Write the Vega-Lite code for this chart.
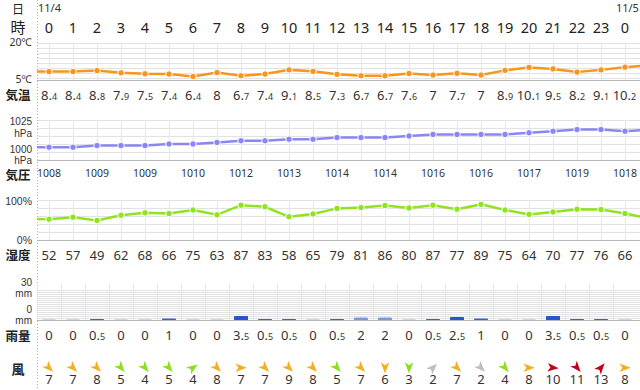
{
"$schema": "https://vega.github.io/schema/vega-lite/v6.json",
"width": 603, "height": 390,
"padding": {"left": 37, "top": 0, "right": 0, "bottom": 0},
"autosize": {"type": "none"},
"background": "white",
"config": {"view": {"stroke": null}, "text": {"font": "Noto Sans", "color": "#333333", "fontSize": 13}},
"datasets": {"wx": [
{"i":-1,"hour":23,"temp":8.5,"pres":1008,"hum":53},
{"i":0,"hour":0,"temp":8.4,"pres":1008,"hum":52,"rain":0,"wdir":135,"wspd":7},
{"i":1,"hour":1,"temp":8.4,"pres":1008,"hum":57,"rain":0,"wdir":135,"wspd":7},
{"i":2,"hour":2,"temp":8.8,"pres":1009,"hum":49,"rain":0.5,"wdir":135,"wspd":8},
{"i":3,"hour":3,"temp":7.9,"pres":1009,"hum":62,"rain":0,"wdir":140,"wspd":5},
{"i":4,"hour":4,"temp":7.5,"pres":1009,"hum":68,"rain":0,"wdir":140,"wspd":4},
{"i":5,"hour":5,"temp":7.4,"pres":1010,"hum":66,"rain":1,"wdir":140,"wspd":5},
{"i":6,"hour":6,"temp":6.4,"pres":1010,"hum":75,"rain":0,"wdir":55,"wspd":4},
{"i":7,"hour":7,"temp":8,"pres":1011,"hum":63,"rain":0,"wdir":135,"wspd":8},
{"i":8,"hour":8,"temp":6.7,"pres":1012,"hum":87,"rain":3.5,"wdir":90,"wspd":7},
{"i":9,"hour":9,"temp":7.4,"pres":1012,"hum":83,"rain":0.5,"wdir":135,"wspd":7},
{"i":10,"hour":10,"temp":9.1,"pres":1013,"hum":58,"rain":0.5,"wdir":135,"wspd":9},
{"i":11,"hour":11,"temp":8.5,"pres":1013,"hum":65,"rain":0,"wdir":135,"wspd":8},
{"i":12,"hour":12,"temp":7.3,"pres":1014,"hum":79,"rain":0.5,"wdir":140,"wspd":5},
{"i":13,"hour":13,"temp":6.7,"pres":1014,"hum":81,"rain":2,"wdir":135,"wspd":7},
{"i":14,"hour":14,"temp":6.7,"pres":1014,"hum":86,"rain":2,"wdir":180,"wspd":6},
{"i":15,"hour":15,"temp":7.6,"pres":1015,"hum":80,"rain":0,"wdir":180,"wspd":3},
{"i":16,"hour":16,"temp":7,"pres":1016,"hum":87,"rain":0.5,"wdir":45,"wspd":2},
{"i":17,"hour":17,"temp":7.7,"pres":1016,"hum":77,"rain":2.5,"wdir":135,"wspd":7},
{"i":18,"hour":18,"temp":7,"pres":1016,"hum":89,"rain":1,"wdir":135,"wspd":2},
{"i":19,"hour":19,"temp":8.9,"pres":1016,"hum":75,"rain":0,"wdir":140,"wspd":4},
{"i":20,"hour":20,"temp":10.1,"pres":1017,"hum":64,"rain":0,"wdir":90,"wspd":8},
{"i":21,"hour":21,"temp":9.5,"pres":1018,"hum":70,"rain":3.5,"wdir":95,"wspd":10},
{"i":22,"hour":22,"temp":8.2,"pres":1019,"hum":77,"rain":0.5,"wdir":140,"wspd":11},
{"i":23,"hour":23,"temp":9.1,"pres":1019,"hum":76,"rain":0.5,"wdir":40,"wspd":13},
{"i":24,"hour":0,"temp":10.2,"pres":1018,"hum":66,"rain":0,"wdir":90,"wspd":8},
{"i":25,"hour":1,"temp":11,"pres":1019,"hum":54}
]},
"data": {"name": "wx"},
"resolve": {"scale": {"y": "independent", "color": "independent", "stroke": "independent"}},
"layer": [
 {"transform": [{"filter": "datum.i >= 0 && datum.i <= 24"}],
  "mark": {"type": "rule", "color": "#e6e6e6", "strokeWidth": 1, "xOffset": 0.5},
  "encoding": {"x": {"field": "i", "type": "quantitative", "scale": {"domain": [-0.5, 24.625], "nice": false, "zero": false, "padding": 0}, "axis": null},
   "y": {"datum": 20, "type": "quantitative", "scale": {"domain": [-120.68, 37.43], "nice": false, "zero": false, "padding": 0}, "axis": null},
   "y2": {"datum": 5}}},
 {"mark": {"type": "line", "color": "#f8951d", "strokeWidth": 2.5, "clip": true},
  "encoding": {"x": {"field": "i", "type": "quantitative", "scale": {"domain": [-0.5, 24.625], "nice": false, "zero": false, "padding": 0}, "axis": null},
   "y": {"field": "temp", "type": "quantitative", "scale": {"domain": [-120.68, 37.43], "nice": false, "zero": false, "padding": 0},
     "axis": {"grid": true, "values": [6,8,10,12,14,16,18,20], "labels": false, "ticks": false, "domain": false, "title": null, "gridColor": "#e2e2e2"}}}},
 {"transform": [{"filter": "datum.i >= 0 && datum.i <= 24"}],
  "mark": {"type": "circle", "size": 42, "color": "#f8951d", "opacity": 1, "stroke": "white", "strokeWidth": 1},
  "encoding": {"x": {"field": "i", "type": "quantitative", "scale": {"domain": [-0.5, 24.625], "nice": false, "zero": false, "padding": 0}, "axis": null},
   "y": {"field": "temp", "type": "quantitative", "scale": {"domain": [-120.68, 37.43], "nice": false, "zero": false, "padding": 0}, "axis": null}}},
 {"transform": [{"filter": "datum.i >= 0 && datum.i <= 24"}],
  "mark": {"type": "text", "baseline": "alphabetic", "fontSize": 13,
    "text": {"expr": "datum.temp % 1 === 0 ? '' + datum.temp : floor(datum.temp) + '.'"},
    "align": {"expr": "datum.temp % 1 === 0 ? 'center' : 'right'"},
    "dx": {"expr": "datum.temp % 1 === 0 ? 0 : (datum.temp >= 10 ? 6 : 3)"}},
  "encoding": {"x": {"field": "i", "type": "quantitative", "scale": {"domain": [-0.5, 24.625], "nice": false, "zero": false, "padding": 0}, "axis": null},
   "y": {"datum": -3.31, "type": "quantitative", "scale": {"domain": [-120.68, 37.43], "nice": false, "zero": false, "padding": 0}, "axis": null}}},
 {"transform": [{"filter": "datum.i >= 0 && datum.i <= 24 && datum.temp % 1 !== 0"}],
  "mark": {"type": "text", "baseline": "alphabetic", "fontSize": 9, "align": "left",
    "text": {"expr": "'' + round((datum.temp % 1) * 10)"},
    "dx": {"expr": "datum.temp >= 10 ? 6 : 3"}},
  "encoding": {"x": {"field": "i", "type": "quantitative", "scale": {"domain": [-0.5, 24.625], "nice": false, "zero": false, "padding": 0}, "axis": null},
   "y": {"datum": -3.31, "type": "quantitative", "scale": {"domain": [-120.68, 37.43], "nice": false, "zero": false, "padding": 0}, "axis": null}}},
 {"transform": [{"filter": "datum.i >= 0 && datum.i <= 24"}],
  "mark": {"type": "text", "baseline": "alphabetic", "fontSize": 14.5, "color": "#222222"},
  "encoding": {"x": {"field": "i", "type": "quantitative", "scale": {"domain": [-0.5, 24.625], "nice": false, "zero": false, "padding": 0}, "axis": null},
   "y": {"datum": 24.17, "type": "quantitative", "scale": {"domain": [-120.68, 37.43], "nice": false, "zero": false, "padding": 0}, "axis": null},
   "text": {"field": "hour", "type": "nominal"}}},
 {"data": {"values": [{"t": "日"}]},
  "mark": {"type": "text", "font": "Noto Sans CJK JP", "fontSize": 12, "baseline": "middle", "color": "#222222"},
  "encoding": {"x": {"datum": -1.29, "type": "quantitative", "axis": null},
   "y": {"datum": 33.4, "type": "quantitative", "scale": {"domain": [-120.68, 37.43], "nice": false, "zero": false, "padding": 0}, "axis": null},
   "text": {"field": "t", "type": "nominal"}}},
 {"data": {"values": [{"t": "時"}]},
  "mark": {"type": "text", "font": "Noto Sans CJK JP", "fontSize": 15, "baseline": "middle", "color": "#222222"},
  "encoding": {"x": {"datum": -1.29, "type": "quantitative", "axis": null},
   "y": {"datum": 26.28, "type": "quantitative", "scale": {"domain": [-120.68, 37.43], "nice": false, "zero": false, "padding": 0}, "axis": null},
   "text": {"field": "t", "type": "nominal"}}},
 {"data": {"values": [{"t": "11/4"}]},
  "mark": {"type": "text", "fontSize": 11, "baseline": "alphabetic", "align": "left"},
  "encoding": {"x": {"datum": -0.458, "type": "quantitative", "axis": null},
   "y": {"datum": 32.44, "type": "quantitative", "scale": {"domain": [-120.68, 37.43], "nice": false, "zero": false, "padding": 0}, "axis": null},
   "text": {"field": "t", "type": "nominal"}}},
 {"data": {"values": [{"t": "11/5"}]},
  "mark": {"type": "text", "fontSize": 11, "baseline": "alphabetic", "align": "center"},
  "encoding": {"x": {"datum": 24.1, "type": "quantitative", "axis": null},
   "y": {"datum": 32.44, "type": "quantitative", "scale": {"domain": [-120.68, 37.43], "nice": false, "zero": false, "padding": 0}, "axis": null},
   "text": {"field": "t", "type": "nominal"}}},
 {"data": {"values": [{"t": "気温"}]},
  "mark": {"type": "text", "font": "Noto Sans CJK JP", "fontSize": 12.5, "fontWeight": "bold", "baseline": "middle", "color": "#222222"},
  "encoding": {"x": {"datum": -1.29, "type": "quantitative", "axis": null},
   "y": {"datum": -1.36, "type": "quantitative", "scale": {"domain": [-120.68, 37.43], "nice": false, "zero": false, "padding": 0}, "axis": null},
   "text": {"field": "t", "type": "nominal"}}},
 {"data": {"values": [{"t": "20℃"}]},
  "mark": {"type": "text", "fontSize": 10.5, "baseline": "middle", "align": "right"},
  "encoding": {"x": {"datum": -0.708, "type": "quantitative", "axis": null},
   "y": {"datum": 20, "type": "quantitative", "scale": {"domain": [-120.68, 37.43], "nice": false, "zero": false, "padding": 0}, "axis": null},
   "text": {"field": "t", "type": "nominal"}}},
 {"data": {"values": [{"t": "5℃"}]},
  "mark": {"type": "text", "fontSize": 10.5, "baseline": "middle", "align": "right"},
  "encoding": {"x": {"datum": -0.708, "type": "quantitative", "axis": null},
   "y": {"datum": 5, "type": "quantitative", "scale": {"domain": [-120.68, 37.43], "nice": false, "zero": false, "padding": 0}, "axis": null},
   "text": {"field": "t", "type": "nominal"}}},
 {"data": {"values": [{"t": "sep"}]},
  "mark": {"type": "rule", "color": "#b0b0b0", "strokeDash": [1, 2], "xOffset": 0.5},
  "encoding": {"x": {"datum": -0.5, "type": "quantitative", "axis": null},
   "y": {"datum": 37.43, "type": "quantitative", "scale": {"domain": [-120.68, 37.43], "nice": false, "zero": false, "padding": 0}, "axis": null},
   "y2": {"datum": -120.68}}},
 {"data": {"values": [{"t": "base"}]},
  "mark": {"type": "rule", "color": "#b8b8b8", "yOffset": 0.5},
  "encoding": {"x": {"datum": -0.5, "type": "quantitative", "axis": null}, "x2": {"datum": 24.625},
   "y": {"datum": 5, "type": "quantitative", "scale": {"domain": [-120.68, 37.43], "nice": false, "zero": false, "padding": 0}, "axis": null}}},

 {"transform": [{"filter": "datum.i >= 0 && datum.i <= 24"}],
  "mark": {"type": "rule", "color": "#e6e6e6", "strokeWidth": 1, "xOffset": 0.5},
  "encoding": {"x": {"field": "i", "type": "quantitative", "scale": {"domain": [-0.5, 24.625], "nice": false, "zero": false, "padding": 0}, "axis": null},
   "y": {"datum": 1025, "type": "quantitative", "scale": {"domain": [856.25, 1100], "nice": false, "zero": false, "padding": 0}, "axis": null},
   "y2": {"datum": 1000}}},
 {"mark": {"type": "line", "color": "#8a86f4", "strokeWidth": 2.5, "clip": true},
  "encoding": {"x": {"field": "i", "type": "quantitative", "scale": {"domain": [-0.5, 24.625], "nice": false, "zero": false, "padding": 0}, "axis": null},
   "y": {"field": "pres", "type": "quantitative", "scale": {"domain": [856.25, 1100], "nice": false, "zero": false, "padding": 0},
     "axis": {"grid": true, "values": [1005,1010,1015,1020,1025], "labels": false, "ticks": false, "domain": false, "title": null, "gridColor": "#e2e2e2"}}}},
 {"transform": [{"filter": "datum.i >= 0 && datum.i <= 24"}],
  "mark": {"type": "circle", "size": 42, "color": "#8a86f4", "opacity": 1, "stroke": "white", "strokeWidth": 1},
  "encoding": {"x": {"field": "i", "type": "quantitative", "scale": {"domain": [-0.5, 24.625], "nice": false, "zero": false, "padding": 0}, "axis": null},
   "y": {"field": "pres", "type": "quantitative", "scale": {"domain": [856.25, 1100], "nice": false, "zero": false, "padding": 0}, "axis": null}}},
 {"transform": [{"filter": "datum.i >= 0 && datum.i <= 24 && datum.i % 2 === 0"}],
  "mark": {"type": "text", "baseline": "alphabetic", "fontSize": 10.5},
  "encoding": {"x": {"field": "i", "type": "quantitative", "scale": {"domain": [-0.5, 24.625], "nice": false, "zero": false, "padding": 0}, "axis": null},
   "y": {"datum": 989.6, "type": "quantitative", "scale": {"domain": [856.25, 1100], "nice": false, "zero": false, "padding": 0}, "axis": null},
   "text": {"field": "pres", "type": "nominal"}}},
 {"data": {"values": [{"t": "気圧"}]},
  "mark": {"type": "text", "font": "Noto Sans CJK JP", "fontSize": 12.5, "fontWeight": "bold", "baseline": "middle", "color": "#222222"},
  "encoding": {"x": {"datum": -1.29, "type": "quantitative", "axis": null},
   "y": {"datum": 990.1, "type": "quantitative", "scale": {"domain": [856.25, 1100], "nice": false, "zero": false, "padding": 0}, "axis": null},
   "text": {"field": "t", "type": "nominal"}}},
 {"data": {"values": [{"t": "1025", "u": "hPa"}]},
  "mark": {"type": "text", "font": "Liberation Sans", "fontSize": 10, "baseline": "middle", "align": "right", "dy": -5.6},
  "encoding": {"x": {"datum": -0.708, "type": "quantitative", "axis": null},
   "y": {"datum": 1020, "type": "quantitative", "scale": {"domain": [856.25, 1100], "nice": false, "zero": false, "padding": 0}, "axis": null},
   "text": {"field": "t", "type": "nominal"}}},
 {"data": {"values": [{"t": "1025", "u": "hPa"}]},
  "mark": {"type": "text", "font": "Liberation Sans", "fontSize": 10, "baseline": "middle", "align": "right", "dy": 5.6},
  "encoding": {"x": {"datum": -0.708, "type": "quantitative", "axis": null},
   "y": {"datum": 1020, "type": "quantitative", "scale": {"domain": [856.25, 1100], "nice": false, "zero": false, "padding": 0}, "axis": null},
   "text": {"field": "u", "type": "nominal"}}},
 {"data": {"values": [{"t": "1000", "u": "hPa"}]},
  "mark": {"type": "text", "font": "Liberation Sans", "fontSize": 10, "baseline": "middle", "align": "right", "dy": -5.6},
  "encoding": {"x": {"datum": -0.708, "type": "quantitative", "axis": null},
   "y": {"datum": 1002.8, "type": "quantitative", "scale": {"domain": [856.25, 1100], "nice": false, "zero": false, "padding": 0}, "axis": null},
   "text": {"field": "t", "type": "nominal"}}},
 {"data": {"values": [{"t": "1000", "u": "hPa"}]},
  "mark": {"type": "text", "font": "Liberation Sans", "fontSize": 10, "baseline": "middle", "align": "right", "dy": 5.6},
  "encoding": {"x": {"datum": -0.708, "type": "quantitative", "axis": null},
   "y": {"datum": 1002.8, "type": "quantitative", "scale": {"domain": [856.25, 1100], "nice": false, "zero": false, "padding": 0}, "axis": null},
   "text": {"field": "u", "type": "nominal"}}},
 {"data": {"values": [{"t": "base"}]},
  "mark": {"type": "rule", "color": "#b8b8b8", "yOffset": 0.5},
  "encoding": {"x": {"datum": -0.5, "type": "quantitative", "axis": null}, "x2": {"datum": 24.625},
   "y": {"datum": 1000, "type": "quantitative", "scale": {"domain": [856.25, 1100], "nice": false, "zero": false, "padding": 0}, "axis": null}}},

 {"transform": [{"filter": "datum.i >= 0 && datum.i <= 24"}],
  "mark": {"type": "rule", "color": "#e6e6e6", "strokeWidth": 1, "xOffset": 0.5},
  "encoding": {"x": {"field": "i", "type": "quantitative", "scale": {"domain": [-0.5, 24.625], "nice": false, "zero": false, "padding": 0}, "axis": null},
   "y": {"datum": 100, "type": "quantitative", "scale": {"domain": [-375, 600], "nice": false, "zero": false, "padding": 0}, "axis": null},
   "y2": {"datum": 0}}},
 {"mark": {"type": "line", "color": "#8fe31f", "strokeWidth": 2.5, "clip": true},
  "encoding": {"x": {"field": "i", "type": "quantitative", "scale": {"domain": [-0.5, 24.625], "nice": false, "zero": false, "padding": 0}, "axis": null},
   "y": {"field": "hum", "type": "quantitative", "scale": {"domain": [-375, 600], "nice": false, "zero": false, "padding": 0},
     "axis": {"grid": true, "values": [20,40,60,80,100], "labels": false, "ticks": false, "domain": false, "title": null, "gridColor": "#e2e2e2"}}}},
 {"transform": [{"filter": "datum.i >= 0 && datum.i <= 24"}],
  "mark": {"type": "circle", "size": 42, "color": "#8fe31f", "opacity": 1, "stroke": "white", "strokeWidth": 1},
  "encoding": {"x": {"field": "i", "type": "quantitative", "scale": {"domain": [-0.5, 24.625], "nice": false, "zero": false, "padding": 0}, "axis": null},
   "y": {"field": "hum", "type": "quantitative", "scale": {"domain": [-375, 600], "nice": false, "zero": false, "padding": 0}, "axis": null}}},
 {"transform": [{"filter": "datum.i >= 0 && datum.i <= 24"}],
  "mark": {"type": "text", "baseline": "alphabetic", "fontSize": 13},
  "encoding": {"x": {"field": "i", "type": "quantitative", "scale": {"domain": [-0.5, 24.625], "nice": false, "zero": false, "padding": 0}, "axis": null},
   "y": {"datum": -50, "type": "quantitative", "scale": {"domain": [-375, 600], "nice": false, "zero": false, "padding": 0}, "axis": null},
   "text": {"field": "hum", "type": "nominal"}}},
 {"data": {"values": [{"t": "湿度"}]},
  "mark": {"type": "text", "font": "Noto Sans CJK JP", "fontSize": 12.5, "fontWeight": "bold", "baseline": "middle", "color": "#222222"},
  "encoding": {"x": {"datum": -1.29, "type": "quantitative", "axis": null},
   "y": {"datum": -40, "type": "quantitative", "scale": {"domain": [-375, 600], "nice": false, "zero": false, "padding": 0}, "axis": null},
   "text": {"field": "t", "type": "nominal"}}},
 {"data": {"values": [{"t": "100%"}]},
  "mark": {"type": "text", "font": "Liberation Sans", "fontSize": 10.5, "baseline": "middle", "align": "right"},
  "encoding": {"x": {"datum": -0.708, "type": "quantitative", "axis": null},
   "y": {"datum": 95, "type": "quantitative", "scale": {"domain": [-375, 600], "nice": false, "zero": false, "padding": 0}, "axis": null},
   "text": {"field": "t", "type": "nominal"}}},
 {"data": {"values": [{"t": "0%"}]},
  "mark": {"type": "text", "font": "Liberation Sans", "fontSize": 10.5, "baseline": "middle", "align": "right"},
  "encoding": {"x": {"datum": -0.708, "type": "quantitative", "axis": null},
   "y": {"datum": -1.5, "type": "quantitative", "scale": {"domain": [-375, 600], "nice": false, "zero": false, "padding": 0}, "axis": null},
   "text": {"field": "t", "type": "nominal"}}},
 {"data": {"values": [{"t": "base"}]},
  "mark": {"type": "rule", "color": "#b8b8b8", "yOffset": 0.5},
  "encoding": {"x": {"datum": -0.5, "type": "quantitative", "axis": null}, "x2": {"datum": 24.625},
   "y": {"datum": 0, "type": "quantitative", "scale": {"domain": [-375, 600], "nice": false, "zero": false, "padding": 0}, "axis": null}}},

 {"transform": [{"filter": "datum.i >= 0 && datum.i <= 24"}],
  "mark": {"type": "rule", "color": "#e4e4e4", "strokeWidth": 1, "xOffset": -11.5},
  "encoding": {"x": {"field": "i", "type": "quantitative", "scale": {"domain": [-0.5, 24.625], "nice": false, "zero": false, "padding": 0}, "axis": null},
   "y": {"datum": 36, "type": "quantitative", "scale": {"domain": [-70, 320], "nice": false, "zero": false, "padding": 0}, "axis": null},
   "y2": {"datum": 0}}},
 {"transform": [{"filter": "datum.i >= 0 && datum.i <= 24"}],
  "mark": {"type": "bar", "width": 13, "strokeWidth": 1},
  "encoding": {"x": {"field": "i", "type": "quantitative", "scale": {"domain": [-0.5, 24.625], "nice": false, "zero": false, "padding": 0}, "axis": null},
   "y": {"field": "rain", "type": "quantitative", "scale": {"domain": [-70, 320], "nice": false, "zero": false, "padding": 0},
     "axis": {"grid": true, "values": [2,4,6,8,10,12,14,16,18,20,22,24,26,28,30], "labels": false, "ticks": false, "domain": false, "title": null, "gridColor": "#e2e2e2"}},
   "y2": {"datum": 0},
   "color": {"field": "rain", "type": "quantitative", "scale": {"type": "threshold", "domain": [0.25, 1.75, 2.25], "range": ["#c8c8c8", "#3a63cc", "#7b98de", "#2a55c8"]}, "legend": null},
   "stroke": {"field": "rain", "type": "quantitative", "scale": {"type": "threshold", "domain": [0.25, 1.75, 2.25], "range": ["#c8c8c8", "#3a63cc", "#7b98de", "#2a55c8"]}, "legend": null}}},
 {"data": {"values": [{"t": "base"}]},
  "mark": {"type": "rule", "color": "#b8b8b8", "yOffset": 0.5},
  "encoding": {"x": {"datum": -0.5, "type": "quantitative", "axis": null}, "x2": {"datum": 24.625},
   "y": {"datum": 0, "type": "quantitative", "scale": {"domain": [-70, 320], "nice": false, "zero": false, "padding": 0}, "axis": null}}},
 {"transform": [{"filter": "datum.i >= 0 && datum.i <= 24"}],
  "mark": {"type": "text", "baseline": "alphabetic", "fontSize": 13,
    "text": {"expr": "datum.rain % 1 === 0 ? '' + datum.rain : floor(datum.rain) + '.'"},
    "align": {"expr": "datum.rain % 1 === 0 ? 'center' : 'right'"},
    "dx": {"expr": "datum.rain % 1 === 0 ? 0 : 3"}},
  "encoding": {"x": {"field": "i", "type": "quantitative", "scale": {"domain": [-0.5, 24.625], "nice": false, "zero": false, "padding": 0}, "axis": null},
   "y": {"datum": -20, "type": "quantitative", "scale": {"domain": [-70, 320], "nice": false, "zero": false, "padding": 0}, "axis": null}}},
 {"transform": [{"filter": "datum.i >= 0 && datum.i <= 24 && datum.rain % 1 !== 0"}],
  "mark": {"type": "text", "baseline": "alphabetic", "fontSize": 9, "align": "left", "dx": 3,
    "text": {"expr": "'' + round((datum.rain % 1) * 10)"}},
  "encoding": {"x": {"field": "i", "type": "quantitative", "scale": {"domain": [-0.5, 24.625], "nice": false, "zero": false, "padding": 0}, "axis": null},
   "y": {"datum": -20, "type": "quantitative", "scale": {"domain": [-70, 320], "nice": false, "zero": false, "padding": 0}, "axis": null}}},
 {"data": {"values": [{"t": "雨量"}]},
  "mark": {"type": "text", "font": "Noto Sans CJK JP", "fontSize": 12.5, "fontWeight": "bold", "baseline": "middle", "color": "#222222"},
  "encoding": {"x": {"datum": -1.29, "type": "quantitative", "axis": null},
   "y": {"datum": -16.5, "type": "quantitative", "scale": {"domain": [-70, 320], "nice": false, "zero": false, "padding": 0}, "axis": null},
   "text": {"field": "t", "type": "nominal"}}},
 {"data": {"values": [{"t": "30", "u": "mm"}]},
  "mark": {"type": "text", "font": "Liberation Sans", "fontSize": 10, "baseline": "middle", "align": "right", "dy": -5.6},
  "encoding": {"x": {"datum": -0.708, "type": "quantitative", "axis": null},
   "y": {"datum": 31.3, "type": "quantitative", "scale": {"domain": [-70, 320], "nice": false, "zero": false, "padding": 0}, "axis": null},
   "text": {"field": "t", "type": "nominal"}}},
 {"data": {"values": [{"t": "30", "u": "mm"}]},
  "mark": {"type": "text", "font": "Liberation Sans", "fontSize": 10, "baseline": "middle", "align": "right", "dy": 5.6},
  "encoding": {"x": {"datum": -0.708, "type": "quantitative", "axis": null},
   "y": {"datum": 31.3, "type": "quantitative", "scale": {"domain": [-70, 320], "nice": false, "zero": false, "padding": 0}, "axis": null},
   "text": {"field": "u", "type": "nominal"}}},
 {"data": {"values": [{"t": "0", "u": "mm"}]},
  "mark": {"type": "text", "font": "Liberation Sans", "fontSize": 10, "baseline": "middle", "align": "right", "dy": -5.6},
  "encoding": {"x": {"datum": -0.708, "type": "quantitative", "axis": null},
   "y": {"datum": 4.2, "type": "quantitative", "scale": {"domain": [-70, 320], "nice": false, "zero": false, "padding": 0}, "axis": null},
   "text": {"field": "t", "type": "nominal"}}},
 {"data": {"values": [{"t": "0", "u": "mm"}]},
  "mark": {"type": "text", "font": "Liberation Sans", "fontSize": 10, "baseline": "middle", "align": "right", "dy": 5.6},
  "encoding": {"x": {"datum": -0.708, "type": "quantitative", "axis": null},
   "y": {"datum": 4.2, "type": "quantitative", "scale": {"domain": [-70, 320], "nice": false, "zero": false, "padding": 0}, "axis": null},
   "text": {"field": "u", "type": "nominal"}}},

 {"transform": [{"filter": "datum.i >= 0 && datum.i <= 24"}],
  "mark": {"type": "point", "shape": "M0,-1L0.75,0.95L0,0.45L-0.75,0.95Z", "filled": true, "size": 130, "opacity": 1},
  "encoding": {"x": {"field": "i", "type": "quantitative", "scale": {"domain": [-0.5, 24.625], "nice": false, "zero": false, "padding": 0}, "axis": null},
   "y": {"datum": -47.7, "type": "quantitative", "scale": {"domain": [-70, 320], "nice": false, "zero": false, "padding": 0}, "axis": null},
   "angle": {"field": "wdir", "type": "quantitative", "scale": null},
   "color": {"field": "wspd", "type": "quantitative", "scale": {"type": "threshold", "domain": [3, 6, 10], "range": ["#bdbdbd", "#88e01c", "#f7ad1f", "#c3001c"]}, "legend": null}}},
 {"transform": [{"filter": "datum.i >= 0 && datum.i <= 24"}],
  "mark": {"type": "text", "baseline": "alphabetic", "fontSize": 13},
  "encoding": {"x": {"field": "i", "type": "quantitative", "scale": {"domain": [-0.5, 24.625], "nice": false, "zero": false, "padding": 0}, "axis": null},
   "y": {"datum": -64.3, "type": "quantitative", "scale": {"domain": [-70, 320], "nice": false, "zero": false, "padding": 0}, "axis": null},
   "text": {"field": "wspd", "type": "nominal"}}},
 {"data": {"values": [{"t": "風"}]},
  "mark": {"type": "text", "font": "Noto Sans CJK JP", "fontSize": 13, "fontWeight": "bold", "baseline": "middle", "color": "#222222"},
  "encoding": {"x": {"datum": -1.29, "type": "quantitative", "axis": null},
   "y": {"datum": -50, "type": "quantitative", "scale": {"domain": [-70, 320], "nice": false, "zero": false, "padding": 0}, "axis": null},
   "text": {"field": "t", "type": "nominal"}}}
]
}
